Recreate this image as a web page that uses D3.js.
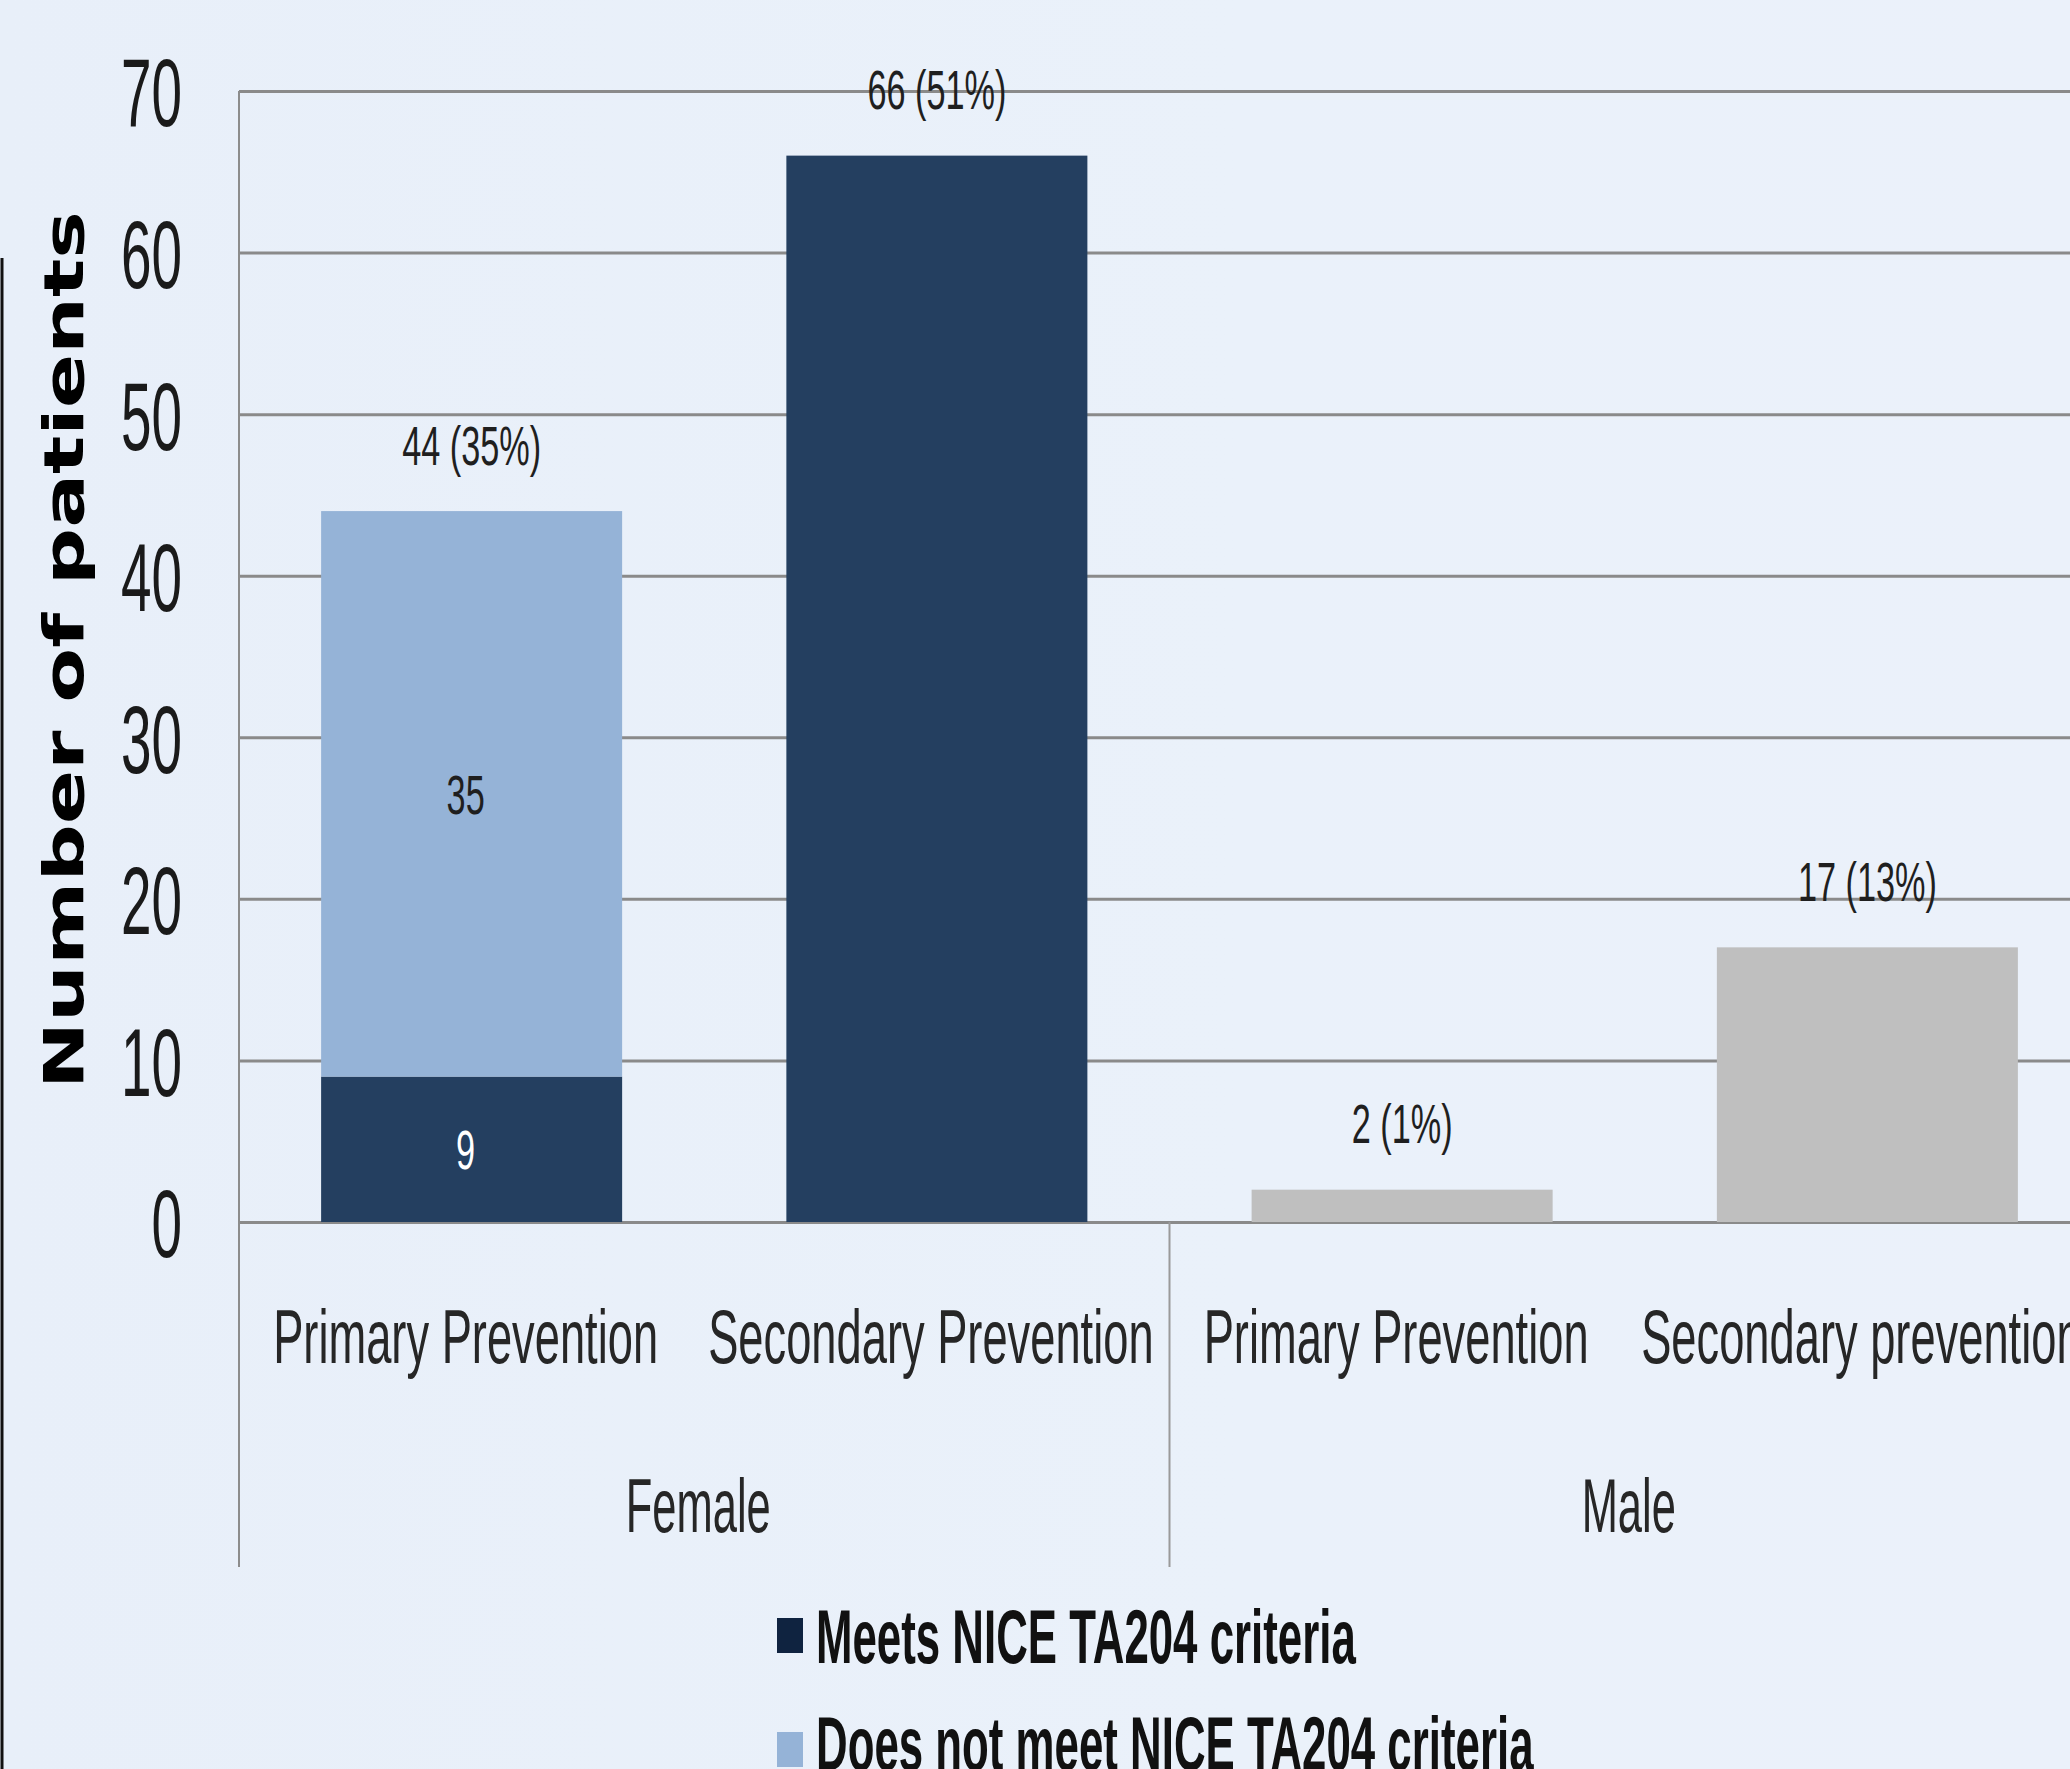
<!DOCTYPE html>
<html>
<head>
<meta charset="utf-8">
<script src="https://cdn.jsdelivr.net/npm/d3@7"></script>
<style>
  html, body { margin: 0; padding: 0; background: #e9f0fa; overflow: hidden; }
  svg { display: block; }
</style>
</head>
<body>
<svg id="chart" width="2070" height="1769"></svg>
<script>
// ---- data ----
const categories = ["Primary Prevention", "Secondary Prevention", "Primary Prevention", "Secondary prevention"];
const groups = ["Female", "Male"];
const groupOf = ["Female", "Female", "Male", "Male"];
const meets = [9, 66, 0, 0];
const doesNotMeet = [35, 0, 0, 0];
const male = [0, 0, 2, 17];
const totalLabels = ["44 (35%)", "66 (51%)", "2 (1%)", "17 (13%)"];
const segmentLabels = [["9", "35"], [null, null], [null, null], [null, null]];
const yTicks = [0, 10, 20, 30, 40, 50, 60, 70];
const legendLabels = ["Meets NICE TA204 criteria", "Does not meet NICE TA204 criteria"];
const yTitle = "Number of patients";

// ---- layout ----
const W = 2070, H = 1769;
const plotLeft = 239, plotRight = 2100, yTop = 91, y0px = 1222, catBottom = 1567;
const colors = { meets: "#243f60", notMeets: "#95b3d7", male: "#bfbfbf" };
const condensed = "'Liberation Sans Narrow', 'Liberation Sans', Arial, sans-serif";

const svg = d3.select("#chart");

// background
const defs = svg.append("defs");
const grad = defs.append("linearGradient").attr("id", "bg").attr("x1", "0").attr("y1", "0").attr("x2", "1").attr("y2", "0");
grad.append("stop").attr("offset", "0").attr("stop-color", "#e8eff9");
grad.append("stop").attr("offset", "0.6").attr("stop-color", "#eaf1fa");
grad.append("stop").attr("offset", "1").attr("stop-color", "#ebf1fa");
svg.append("rect").attr("width", W).attr("height", H).attr("fill", "url(#bg)");

const y = d3.scaleLinear().domain([0, 70]).range([y0px, yTop]);
const x = d3.scaleBand().domain(d3.range(categories.length)).range([plotLeft, plotRight])
  .paddingInner(0.353).paddingOuter(0.1765);

// helper: uniform horizontal squeeze so a sample string gets the target width
function squeeze(sel, sampleText, targetWidth) {
  let natural = null;
  sel.each(function () {
    if (this.textContent === sampleText && natural === null) natural = this.getComputedTextLength();
  });
  if (natural === null) natural = sel.node().getComputedTextLength();
  const f = targetWidth / natural;
  sel.each(function () {
    const t = d3.select(this);
    const tx = +t.attr("data-x"), ty = +t.attr("data-y");
    t.attr("transform", `translate(${tx},${ty}) scale(${f},1)`);
  });
}

// y axis with gridlines
const yAxis = d3.axisLeft(y).tickValues(yTicks).tickSizeInner(-(W - plotLeft)).tickSizeOuter(0).tickPadding(57);
const gy = svg.append("g").attr("transform", `translate(${plotLeft},0)`).call(yAxis);
gy.select(".domain").remove();
gy.selectAll(".tick line").attr("stroke", "#8a8a8a").attr("stroke-width", 3);
const tickTexts = gy.selectAll(".tick text")
  .attr("font-family", condensed).attr("font-size", 97).attr("fill", "#1a1a1a")
  .attr("dy", "0.36em");
// squeeze tick labels horizontally (anchor end at x = -57)
tickTexts.each(function () {
  const t = d3.select(this);
  t.attr("data-x", t.attr("x")).attr("data-y", 0).attr("x", null);
});
squeeze(tickTexts, "70", 61);

// vertical axis lines
svg.append("line").attr("x1", plotLeft).attr("x2", plotLeft).attr("y1", yTop).attr("y2", catBottom)
  .attr("stroke", "#8c8c8c").attr("stroke-width", 2);
svg.append("line").attr("x1", x.step() * 2 + plotLeft).attr("x2", x.step() * 2 + plotLeft)
  .attr("y1", y0px).attr("y2", catBottom).attr("stroke", "#9a9a9a").attr("stroke-width", 2);

// bars (stacked)
const rows = categories.map((c, i) => ({ i, meets: meets[i], notMeets: doesNotMeet[i], male: male[i] }));
const keys = ["meets", "notMeets", "male"];
const stack = d3.stack().keys(keys)(rows);
svg.append("g").selectAll("g").data(stack).join("g")
  .attr("fill", d => colors[d.key])
  .selectAll("rect").data(d => d.filter(s => s[1] - s[0] > 0)).join("rect")
  .attr("x", d => x(d.data.i))
  .attr("width", x.bandwidth())
  .attr("y", d => y(d[1]))
  .attr("height", d => y(d[0]) - y(d[1]));

// segment labels
const segData = [];
stack.forEach((layer, li) => {
  layer.forEach((s, ci) => {
    const lab = segmentLabels[ci][li];
    if (lab) segData.push({ lab, ci, mid: (s[0] + s[1]) / 2, key: layer.key });
  });
});
const segText = svg.append("g").selectAll("text").data(segData).join("text")
  .attr("data-x", d => x(d.ci) + x.bandwidth() / 2 - 6)
  .attr("data-y", d => y(d.mid))
  .attr("text-anchor", "middle").attr("dy", "0.36em")
  .attr("font-family", condensed).attr("font-size", 55)
  .attr("fill", d => d.key === "meets" ? "#ffffff" : "#1f1f1f")
  .text(d => d.lab);

// total labels
const totals = categories.map((c, i) => meets[i] + doesNotMeet[i] + male[i]);
const totText = svg.append("g").selectAll("text").data(totalLabels).join("text")
  .attr("data-x", (d, i) => x(i) + x.bandwidth() / 2)
  .attr("data-y", (d, i) => y(totals[i]) - 66)
  .attr("text-anchor", "middle").attr("dy", "0.36em")
  .attr("font-family", condensed).attr("font-size", 55).attr("fill", "#1f1f1f")
  .text(d => d);
squeeze(totText, "44 (35%)", 139);
const totFactor = 139;
// apply same squeeze to segment labels (using scale of total labels)
(function () {
  const tr = totText.filter(d => d === "44 (35%)").attr("transform");
  const f = +tr.match(/scale\(([^,]+),/)[1];
  segText.each(function () {
    const t = d3.select(this);
    t.attr("transform", `translate(${t.attr("data-x")},${t.attr("data-y")}) scale(${f},1)`);
  });
})();

// category labels
const catText = svg.append("g").selectAll("text").data(categories).join("text")
  .attr("data-x", (d, i) => x(i) + x.bandwidth() / 2 - 6)
  .attr("data-y", 1336)
  .attr("text-anchor", "middle").attr("dy", "0.36em")
  .attr("font-family", condensed).attr("font-size", 76).attr("fill", "#262626")
  .text(d => d);
squeeze(catText, "Primary Prevention", 385);

// group labels
const groupCenters = groups.map(g => {
  const idx = groupOf.map((v, i) => v === g ? i : -1).filter(i => i >= 0);
  return (x(idx[0]) - x.step() * 0.1765 + x(idx[idx.length - 1]) + x.bandwidth() + x.step() * 0.1765) / 2;
});
const grpText = svg.append("g").selectAll("text").data(groups).join("text")
  .attr("data-x", (d, i) => groupCenters[i] - 6)
  .attr("data-y", 1505)
  .attr("text-anchor", "middle").attr("dy", "0.36em")
  .attr("font-family", condensed).attr("font-size", 76).attr("fill", "#262626")
  .text(d => d);
squeeze(grpText, "Female", 145);

// y title
const yt = svg.append("text")
  .attr("text-anchor", "middle")
  .attr("font-family", "'DejaVu Sans', Verdana, sans-serif").attr("font-weight", "bold")
  .attr("font-size", 56).attr("fill", "#000")
  .text(yTitle);
const ytNat = yt.node().getComputedTextLength();
yt.attr("transform", `translate(83,650) rotate(-90) scale(${878 / ytNat},1)`);

// left black rule
svg.append("line").attr("x1", 2).attr("x2", 2).attr("y1", 258).attr("y2", H)
  .attr("stroke", "#111").attr("stroke-width", 3);

// legend
const legendColors = [colors.meets, colors.notMeets];
const lg = svg.append("g");
lg.selectAll("rect").data(legendLabels).join("rect")
  .attr("x", 777).attr("y", (d, i) => 1618 + i * 114)
  .attr("width", 26).attr("height", 35)
  .attr("fill", (d, i) => i === 0 ? "#0f2340" : legendColors[i]);
const lgText = lg.selectAll("text").data(legendLabels).join("text")
  .attr("data-x", 816).attr("data-y", (d, i) => 1636 + i * 107)
  .attr("dy", "0.36em")
  .attr("font-family", condensed).attr("font-weight", "bold")
  .attr("font-size", 76).attr("fill", "#111")
  .text(d => d);
squeeze(lgText, "Meets NICE TA204 criteria", 540);
</script>
</body>
</html>
